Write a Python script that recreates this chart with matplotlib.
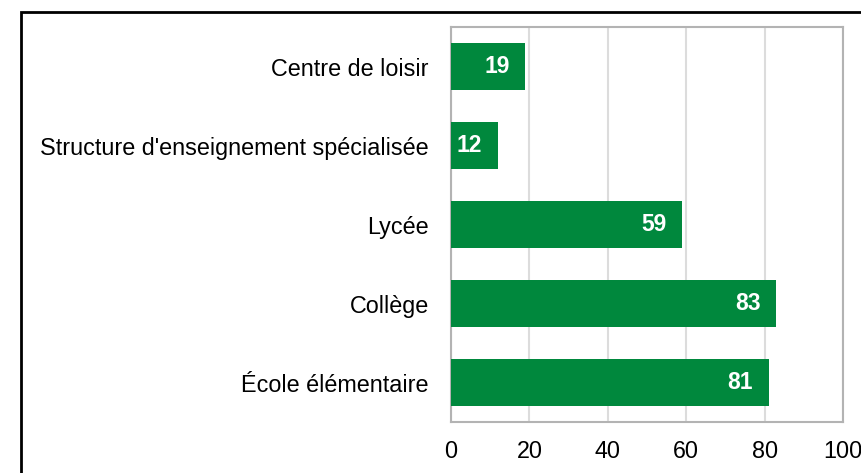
import numpy as np
import matplotlib.pyplot as plt
from matplotlib.patches import Rectangle

plt.rcParams['font.family'] = ['Liberation Sans', 'DejaVu Sans']

# categories, top to bottom
categories = ['Centre de loisir', "Structure d'enseignement spécialisée",
              'Lycée', 'Collège', 'École élémentaire']
values = [19, 12, 59, 83, 81]
xticks = [0, 20, 40, 60, 80, 100]

green = '#00883d'

fig = plt.figure(figsize=(8.61, 4.73), dpi=100)
ax = fig.add_axes([451 / 861, 1 - 422 / 473, (843 - 451) / 861, (422 - 27) / 473])

ypos = np.arange(len(categories))
bars = ax.barh(ypos, values, height=0.6, color=green, zorder=3)
ax.set_ylim(len(categories) - 0.5, -0.5)
ax.set_xlim(0, 100)

# value labels inside the bar ends
for y, v in zip(ypos, values):
    ax.text(v - 4.0, y, str(v), ha='right', va='center', color='white',
            fontsize=16.5, fontweight='bold', zorder=4)

ax.set_yticks(ypos)
ax.set_yticklabels(categories, fontsize=16.8)
ax.set_xticks(xticks)
ax.set_xticklabels([str(t) for t in xticks], fontsize=16.8)
ax.tick_params(axis='both', length=0)
ax.tick_params(axis='y', pad=16)
ax.tick_params(axis='x', pad=13)

ax.grid(axis='x', color='#dcdcdc', linewidth=1.5, zorder=0)
for s in ax.spines.values():
    s.set_color('#b3b3b3')
    s.set_linewidth(1.5)

# outer frame around the chart
fig.patches.append(Rectangle((21 / 861, -0.1), 1.2, 1 - 12 / 473 + 0.1,
                             transform=fig.transFigure, fill=False,
                             edgecolor='black', linewidth=2))

fig.savefig('out.png', dpi=100)
